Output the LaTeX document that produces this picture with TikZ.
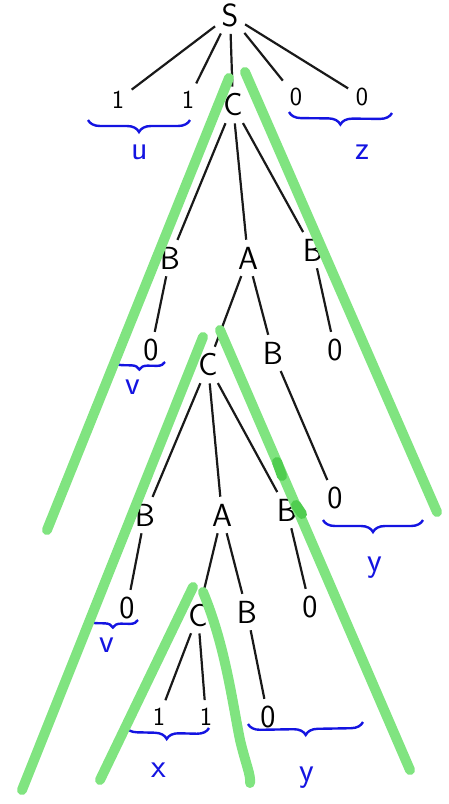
\documentclass[tikz,border=0pt]{standalone}
\usepackage{fontspec}
\usepackage{tikz}
\usetikzlibrary{decorations.pathreplacing}

\definecolor{marker}{RGB}{128,228,128}
\definecolor{markerdark}{RGB}{80,205,80}
\definecolor{pen}{RGB}{20,20,225}

\begin{document}
\begin{tikzpicture}[
    x=1pt, y=-1pt,
    sym/.style={font=\sffamily\fontsize{32}{36}\selectfont, inner sep=4pt},
    tsym/.style={font=\sffamily\fontsize{26}{30}\selectfont, inner sep=5pt},
    branch/.style={line width=2.2pt, black!90, shorten >=3pt, shorten <=3pt},
    hl/.style={line width=10pt, marker, line cap=round},
    part/.style={decorate, decoration={brace, mirror, amplitude=12pt}, pen, line width=2.4pt},
    lab/.style={font=\sffamily\fontsize{34}{38}\selectfont, text=pen}
]
\useasboundingbox (0,0) rectangle (448,804);

% Root level
\node[sym] (s) at (230,15) {S};
\node[tsym] (one1) at (118,100) {1};
\node[tsym] (one2) at (188,100) {1};
\node[sym] (c1) at (233,105) {C};
\node[tsym] (zero1) at (296,97) {0};
\node[tsym] (zero2) at (362,97) {0};

% Under the first C
\node[sym] (b1) at (170,258) {B};
\node[sym] (a1) at (248,258) {A};
\node[sym] (b2) at (313,250) {B};
\node[sym] (zero3) at (151,350) {0};
\node[sym] (c2) at (208,365) {C};
\node[sym] (b3) at (273,353) {B};
\node[sym] (zero4) at (335,350) {0};
\node[sym] (zero5) at (335,498) {0};

% Under the second C
\node[sym] (b4) at (145,515) {B};
\node[sym] (a2) at (222,515) {A};
\node[sym] (b5) at (287,510) {B};
\node[sym] (zero6) at (127,608) {0};
\node[sym] (c3) at (198,615) {C};
\node[sym] (b6) at (247,612) {B};
\node[sym] (zero7) at (310,607) {0};

% Under the third C
\node[tsym] (one3) at (159,717) {1};
\node[tsym] (one4) at (206,717) {1};
\node[sym] (zero8) at (268,717) {0};

% Branches
\draw[branch] (s) -- (one1);
\draw[branch] (s) -- (one2);
\draw[branch] (s) -- (c1);
\draw[branch] (s) -- (zero1);
\draw[branch] (s) -- (zero2);

\draw[branch] (c1) -- (b1);
\draw[branch] (c1) -- (a1);
\draw[branch] (c1) -- (b2);
\draw[branch] (b1) -- (zero3);
\draw[branch] (a1) -- (c2);
\draw[branch] (a1) -- (b3);
\draw[branch] (b2) -- (zero4);
\draw[branch] (b3) -- (zero5);

\draw[branch] (c2) -- (b4);
\draw[branch] (c2) -- (a2);
\draw[branch] (c2) -- (b5);
\draw[branch] (b4) -- (zero6);
\draw[branch] (a2) -- (c3);
\draw[branch] (a2) -- (b6);
\draw[branch] (b5) -- (zero7);

\draw[branch] (c3) -- (one3);
\draw[branch] (c3) -- (one4);
\draw[branch] (b6) -- (zero8);

% Braces
\coordinate (ul) at (88,120);   \coordinate (ur) at (190,120);
\coordinate (zl) at (289,112);  \coordinate (zr) at (392,113);
\coordinate (v1l) at (114,361); \coordinate (v1r) at (165,362);
\coordinate (y1l) at (323,520); \coordinate (y1r) at (423,520);
\coordinate (v2l) at (88,619);  \coordinate (v2r) at (138,620);
\coordinate (xl) at (125,726);  \coordinate (xr) at (209,728);
\coordinate (y2l) at (248,724); \coordinate (y2r) at (363,722);

\draw[part] (ul) -- (ur);
\draw[part] (zl) -- (zr);
\draw[part, decoration={amplitude=8pt}] (v1l) -- (v1r);
\draw[part] (y1l) -- (y1r);
\draw[part, decoration={amplitude=8pt}] (v2l) -- (v2r);
\draw[part] (xl) -- (xr);
\draw[part] (y2l) -- (y2r);

\node[lab] (u) at (140,152) {u};
\node[lab] (z) at (362,152) {z};
\node[lab] (v1) at (133,387) {v};
\node[lab] (y1) at (375,568) {y};
\node[lab] (v2) at (107,645) {v};
\node[lab] (x) at (159,770) {x};
\node[lab] (y2) at (307,778) {y};

% Green marker strokes
\draw[hl] (229,78) -- (47,530);
\draw[hl] (245,72) -- (437,512);
\draw[hl] (203,337) -- (22,790);
\draw[hl] (220,330) -- (410,770);
\draw[hl] (193,587) -- (100,780);
\draw[hl] (203,592) .. controls (225,645) and (232,700) .. (240,740)
    .. controls (246,765) and (251,775) .. (250,783);
\draw[line width=10pt, markerdark, line cap=round] (277,462) -- (282,476);
\draw[line width=10pt, markerdark, line cap=round] (296,505) -- (302,514);

\end{tikzpicture}
\end{document}
